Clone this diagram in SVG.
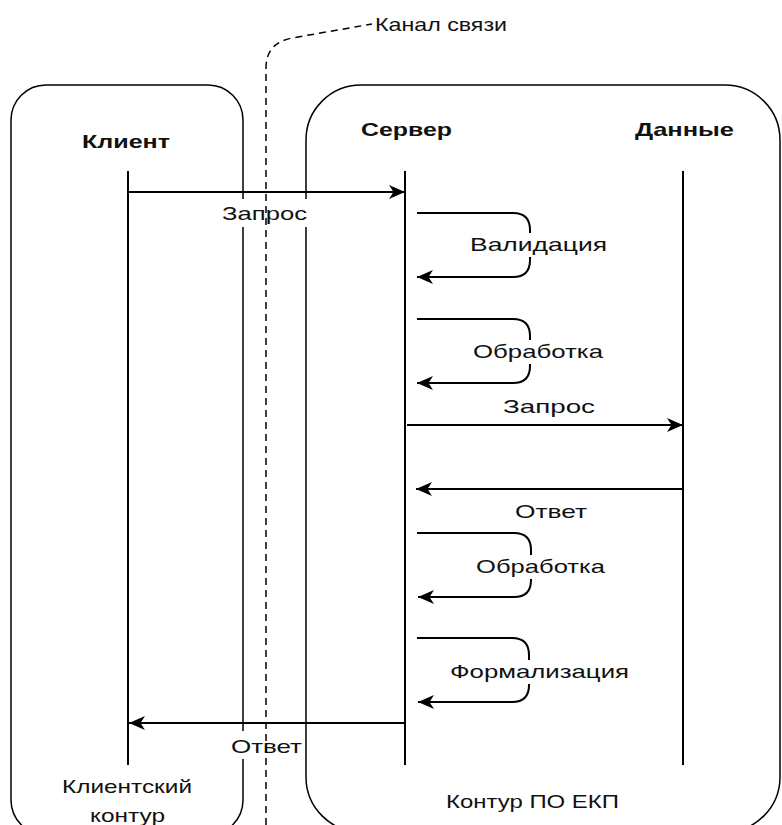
<svg xmlns="http://www.w3.org/2000/svg" width="782" height="825" viewBox="0 0 782 825">
<style>
.box{fill:none;stroke:#000;stroke-width:1.5}
.life{stroke:#000;stroke-width:2;fill:none}
.msg{stroke:#000;stroke-width:2;fill:none;marker-end:url(#arr)}
.t{font-family:"Liberation Sans",Arial,sans-serif;font-size:19px;fill:#111}
.b{font-weight:bold}
.bg{fill:#fff}
.dash{stroke:#000;stroke-width:1.5;fill:none;stroke-dasharray:7 5}
</style>
<defs>
<marker id="arr" markerUnits="userSpaceOnUse" viewBox="0 0 16 14" refX="16" refY="7" markerWidth="16" markerHeight="14" orient="auto">
<path d="M0,0 L16,7 L0,14 L4.5,7 Z" fill="#000"/>
</marker>
</defs>
<g id="client-contour">
<rect class="box" x="11" y="85" width="232" height="750" rx="35"/>
<text class="t" x="62" y="793" textLength="130" lengthAdjust="spacingAndGlyphs">Клиентский</text>
<text class="t" x="90" y="822" textLength="75" lengthAdjust="spacingAndGlyphs">контур</text>
</g>
<g id="server-contour">
<rect class="box" x="306" y="85" width="474" height="747" rx="55"/>
<text class="t" x="446" y="808" textLength="173" lengthAdjust="spacingAndGlyphs">Контур ПО ЕКП</text>
</g>
<g id="client">
<text class="t b" x="82" y="148" textLength="88" lengthAdjust="spacingAndGlyphs">Клиент</text>
<line class="life" x1="128" y1="171" x2="128" y2="765"/>
</g>
<g id="server">
<text class="t b" x="361" y="136" textLength="91" lengthAdjust="spacingAndGlyphs">Сервер</text>
<line class="life" x1="405" y1="171" x2="405" y2="765"/>
</g>
<g id="data">
<text class="t b" x="635" y="136" textLength="99" lengthAdjust="spacingAndGlyphs">Данные</text>
<line class="life" x1="683" y1="171" x2="683" y2="765"/>
</g>
<g id="connectors">
<path class="msg" d="M128,192 H405"/>
<path class="msg" d="M417,213 H513 Q530,213 530,230 V260 Q530,277 513,277 H417"/>
<path class="msg" d="M417,319 H513 Q530,319 530,336 V366 Q530,383 513,383 H417"/>
<path class="msg" d="M407,425 H683"/>
<path class="msg" d="M683,489 H416"/>
<path class="msg" d="M417,533 H514 Q531,533 531,550 V580 Q531,597 514,597 H418"/>
<path class="msg" d="M417,638 H512 Q529,638 529,655 V685 Q529,702 512,702 H418"/>
<path class="msg" d="M405,723 H129"/>
</g>
<g id="labels">
<rect class="bg" x="220" y="199" width="89" height="28"/>
<text class="t" x="222" y="220" textLength="85" lengthAdjust="spacingAndGlyphs">Запрос</text>
<rect class="bg" x="468" y="233" width="141" height="24"/>
<text class="t" x="470" y="251" textLength="137" lengthAdjust="spacingAndGlyphs">Валидация</text>
<rect class="bg" x="471" y="340" width="134" height="24"/>
<text class="t" x="473" y="358" textLength="130" lengthAdjust="spacingAndGlyphs">Обработка</text>
<text class="t" x="503" y="413" textLength="92" lengthAdjust="spacingAndGlyphs">Запрос</text>
<text class="t" x="515" y="518" textLength="72" lengthAdjust="spacingAndGlyphs">Ответ</text>
<rect class="bg" x="474" y="555" width="133" height="24"/>
<text class="t" x="476" y="573" textLength="129" lengthAdjust="spacingAndGlyphs">Обработка</text>
<rect class="bg" x="448" y="660" width="183" height="24"/>
<text class="t" x="450" y="678" textLength="179" lengthAdjust="spacingAndGlyphs">Формализация</text>
<rect class="bg" x="229" y="731" width="75" height="28"/>
<text class="t" x="231" y="753" textLength="71" lengthAdjust="spacingAndGlyphs">Ответ</text>
</g>
<g id="channel">
<path class="dash" d="M266,825 V68 Q266,43 292,38 L372,24"/>
<text class="t" x="375" y="31" textLength="132" lengthAdjust="spacingAndGlyphs">Канал связи</text>
</g>
</svg>
